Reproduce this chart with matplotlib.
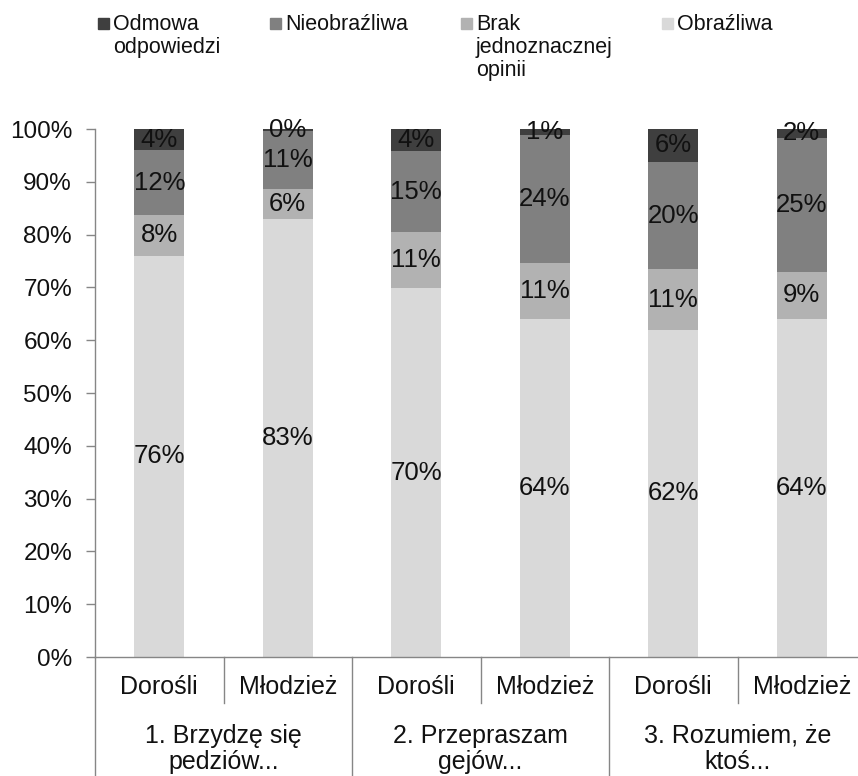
import matplotlib
matplotlib.use('Agg')
import matplotlib.pyplot as plt
from matplotlib.patches import Rectangle
from matplotlib.transforms import blended_transform_factory

plt.rcParams['font.family'] = ['Liberation Sans', 'DejaVu Sans']

# data
groups = ['1. Brzydzę się\npedziów...', '2. Przepraszam\ngejów...', '3. Rozumiem, że\nktoś...']
subgroups = ['Dorośli', 'Młodzież']
series_names = ['Obraźliwa', 'Brak\njednoznacznej\nopinii', 'Nieobraźliwa', 'Odmowa\nodpowiedzi']
obrazliwa = [76, 83, 69.8, 64, 62, 64]
brak_opinii = [7.7, 5.6, 10.7, 10.7, 11.4, 9]
nieobrazliwa = [12.3, 11, 15.3, 24.2, 20.4, 25.3]
odmowa = [4, 0.4, 4.2, 1.1, 6.2, 1.7]
yticks = [0, 10, 20, 30, 40, 50, 60, 70, 80, 90, 100]

series = [obrazliwa, brak_opinii, nieobrazliwa, odmowa]
colors = ['#d9d9d9', '#b2b2b2', '#808080', '#3f3f3f']
axis_color = '#868686'
text_color = '#111111'

W, H = 858, 776
fig = plt.figure(figsize=(W / 100, H / 100), dpi=100)
ax = fig.add_axes([95 / W, (H - 657) / H, 771 / W, 528 / H])

n = len(obrazliwa)
x = list(range(n))
bottom = [0] * n
for vals, col in zip(series, colors):
    bars = ax.bar(x, vals, width=0.39, bottom=bottom, color=col, edgecolor='none')
    ax.bar_label(bars, labels=[f'{v:.0f}%' for v in vals], label_type='center',
                 fontsize=18.5, color=text_color)
    bottom = [b + v for b, v in zip(bottom, vals)]

ax.set_xlim(-0.5, n - 0.5)
ax.set_ylim(0, 100)
ax.set_yticks(yticks)
ax.set_yticklabels([f'{t}%' for t in yticks], fontsize=17.5, color=text_color)
ax.tick_params(axis='y', direction='out', length=6.5, width=1, color=axis_color, pad=10)
ax.set_xticks([])
for s in ['top', 'right']:
    ax.spines[s].set_visible(False)
for s in ['left', 'bottom']:
    ax.spines[s].set_color(axis_color)
    ax.spines[s].set_linewidth(1)

# two-level category axis
tr = blended_transform_factory(ax.transData, fig.transFigure)
y_axis = (H - 657) / H
for i in range(n):
    ax.text(i, (H - 687) / H, subgroups[i % 2], transform=tr, ha='center', va='center',
            fontsize=18, color=text_color)
for g, label in enumerate(groups):
    ax.text(2 * g + 0.5, (H - 749) / H, label, transform=tr, ha='center', va='center',
            fontsize=18, color=text_color, linespacing=1.12)
for xs in [0.5, 2.5, 4.5]:
    ax.plot([xs, xs], [y_axis, (H - 703) / H], transform=tr, color=axis_color,
            lw=1, clip_on=False)
for xs in [-0.5, 1.5, 3.5, 5.5]:
    ax.plot([xs, xs], [y_axis, 0], transform=tr, color=axis_color, lw=1, clip_on=False)

# legend, drawn by hand so multi-line labels stay top-aligned
legend_order = [3, 2, 1, 0]
legend_x = [98, 270, 461, 662]
for xpos, idx in zip(legend_x, legend_order):
    fig.patches.append(Rectangle((xpos / W, (H - 29) / H), 11 / W, 11 / H,
                                 transform=fig.transFigure, color=colors[idx]))
    fig.text((xpos + 15) / W, (H - 14) / H, series_names[idx], ha='left', va='top',
             fontsize=15.5, color=text_color, linespacing=1.13)

fig.savefig('out.png', dpi=100)
